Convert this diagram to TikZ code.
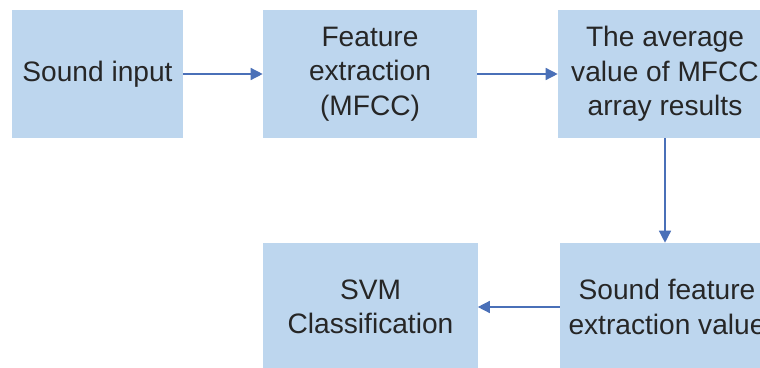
\documentclass[tikz,border=0pt]{standalone}
\usepackage{fontspec}
\setmainfont{Liberation Sans}
\usetikzlibrary{arrows.meta}

\definecolor{boxblue}{HTML}{BDD6EE}
\definecolor{arrowblue}{HTML}{4A70B8}
\definecolor{textgray}{HTML}{262626}

\tikzset{
  box/.style={fill=boxblue,text=textgray,align=center,minimum height=3.2cm,inner sep=0pt,
    font=\fontsize{20}{24.5}\selectfont},
  flow/.style={draw=arrowblue,line width=1pt,-{Triangle[length=0.3cm,width=0.3cm]}}
}

\begin{document}
\begin{tikzpicture}[x=0.025cm,y=-0.025cm]

% Frame
\useasboundingbox (0,0) rectangle (760,367);
\fill[white] (0,0) rectangle (760,367);
\clip (0,0) rectangle (760,367);

% Top row
\node[box,minimum width=4.275cm](input) at (97.5,74){Sound input};
\node[box,minimum width=5.35cm](mfcc) at (370,74){Feature\\extraction\\(MFCC)};
\node[box,minimum width=5.35cm](avg) at (665,74){The average\\value of MFCC\\array results};

% Bottom row
\node[box,minimum width=5.35cm](value) at (667,307){Sound feature\\extraction value};
\node[box,minimum width=5.35cm](svm) at (370.5,307){SVM\\Classification};

% Arrows
\draw[flow] (input.east) -- (mfcc.west);
\draw[flow] (mfcc.east) -- (avg.west);
\draw[flow] (avg.south) -- (avg.south |- value.north);
\draw[flow] (value.west) -- (svm.east);

\end{tikzpicture}
\end{document}
